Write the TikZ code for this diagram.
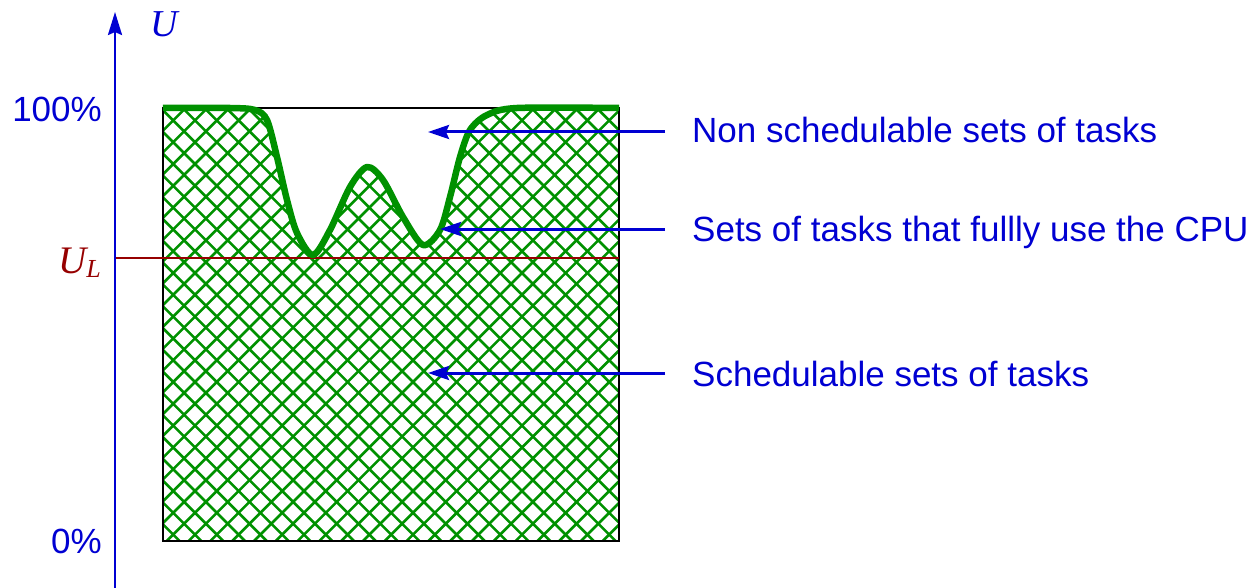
\documentclass[tikz,border=0pt]{standalone}
\usepackage{fontspec}
\setmainfont{Liberation Sans}
\newfontfamily\tmsfont{Liberation Serif}
\usetikzlibrary{arrows.meta}
\definecolor{hgreen}{RGB}{0,145,0}
\definecolor{tblue}{RGB}{0,0,210}
\definecolor{dred}{RGB}{150,0,0}
\tikzset{
  lbl/.style={text=tblue,inner sep=0pt,font=\fontsize{35}{40}\selectfont},
  arr/.style={draw=tblue,line width=3pt,-{Stealth[length=21pt,width=14pt,inset=3pt]}},
  axisline/.style={draw=tblue,line width=2.5pt,-{Stealth[length=23pt,width=14pt,inset=3pt]}},
  hatch/.style={draw=hgreen,line width=2.6pt},
  curve/.style={draw=hgreen,line width=6.5pt,line join=round},
}
\begin{document}
\begin{tikzpicture}[x=1pt,y=-1pt]
\useasboundingbox (0,0) rectangle (1257,588);
% hatched region under the curve
\begin{scope}
\clip plot[smooth,tension=0.5] coordinates {(163,108) (230,108) (255,110) (267,120) (277,157) (287,200) (297,233) (313,255) (330,230) (350,187) (367,167) (383,180) (403,217) (423,245) (440,230) (450,197) (460,157) (470,130) (487,115) (517,108) (619,108)} -- (619,541) -- (163,541) -- cycle;
\foreach \i in {0,...,45}{\draw[hatch] (-405+21.8*\i+90,90) -- (-405+21.8*\i+560,560);}
\foreach \i in {0,...,45}{\draw[hatch] (250+21.8*\i-90,90) -- (250+21.8*\i-560,560);}
\end{scope}
% box
\node[draw=black,line width=2.2pt,inner sep=0pt,minimum width=456pt,minimum height=433pt] (box) at (391,324.5) {};
% U_L line
\coordinate (ul0) at (115,258);
\coordinate (ul1) at (619,258);
\draw[dred,line width=2.5pt] (ul0) -- (ul1);
% curve
\draw[curve] plot[smooth,tension=0.5] coordinates {(163,108) (230,108) (255,110) (267,120) (277,157) (287,200) (297,233) (313,255) (330,230) (350,187) (367,167) (383,180) (403,217) (423,245) (440,230) (450,197) (460,157) (470,130) (487,115) (517,108) (619,108)};
% axis
\coordinate (ax0) at (115,588);
\coordinate (ax1) at (115,12);
\draw[axisline] (ax0) -- (ax1);
\node[anchor=base west,inner sep=0pt,text=tblue,font=\tmsfont\itshape\fontsize{38}{40}\selectfont] (ulab) at (150,37) {U};
\node[lbl,anchor=base east] (p100) at (102,122) {100\%};
\node[lbl,anchor=base east] (p0) at (102,553) {0\%};
\node[anchor=base east,inner sep=0pt,text=dred,font=\tmsfont\itshape\fontsize{39}{40}\selectfont] (ullab) at (101,273) {U\raisebox{-4pt}{\fontsize{26}{26}\selectfont L}};
% labels and arrows
\node[lbl,anchor=base west] (t1) at (692,143) {Non schedulable sets of tasks};
\node[lbl,anchor=base west] (t2) at (692,241) {Sets of tasks that fullly use the CPU};
\node[lbl,anchor=base west] (t3) at (692,386) {Schedulable sets of tasks};
\coordinate (a1s) at (665,132); \coordinate (a1e) at (428,132);
\coordinate (a2s) at (665,229); \coordinate (a2e) at (440,229);
\coordinate (a3s) at (665,373); \coordinate (a3e) at (428,373);
\draw[arr] (a1s) -- (a1e);
\draw[arr] (a2s) -- (a2e);
\draw[arr] (a3s) -- (a3e);
\end{tikzpicture}
\end{document}
